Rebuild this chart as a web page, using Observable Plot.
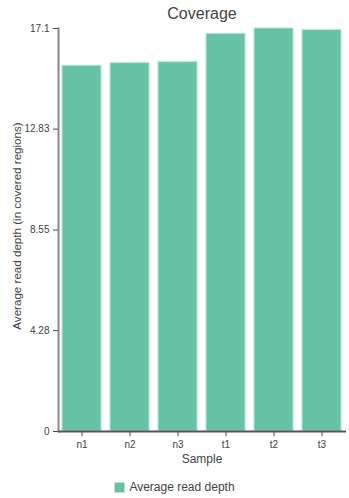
<!DOCTYPE html>
<html>
<head>
<meta charset="utf-8">
<script src="https://cdn.jsdelivr.net/npm/d3@7"></script>
<script src="https://cdn.jsdelivr.net/npm/@observablehq/plot@0.6"></script>
<style>
  html, body { margin: 0; padding: 0; background: #fff; }
  body { width: 349px; height: 498px; position: relative; font-family: "Liberation Sans", Arial, sans-serif; overflow: hidden; }
  #title { position: absolute; left: 58px; width: 288px; top: 5px; text-align: center; font-size: 16px; color: #444; }
  #chart { position: absolute; left: 0; top: 0; }
  #xlabel { position: absolute; left: 58px; width: 288px; top: 452px; text-align: center; font-size: 12px; color: #444; }
  #ylabel { position: absolute; left: 16px; top: 226px; font-size: 11.6px; color: #444; white-space: nowrap; transform: translate(-50%, -50%) rotate(-90deg); }
  #legend { position: absolute; left: 0; width: 349px; top: 480px; text-align: center; font-size: 12px; color: #444; }
  #legend .sw { display: inline-block; width: 11px; height: 11px; background: #66c2a5; border: 1px solid #b8e3d3; vertical-align: -2px; margin-right: 4px; box-sizing: border-box; }
</style>
</head>
<body>
<div id="chart"></div>
<div id="title">Coverage</div>
<div id="xlabel">Sample</div>
<div id="ylabel">Average read depth (in covered regions)</div>
<div id="legend"><span class="sw"></span>Average read depth</div>
<script>
const samples = ["n1", "n2", "n3", "t1", "t2", "t3"];
const depths = [15.52, 15.63, 15.67, 16.87, 17.1, 17.03];
const yTicks = [0, 4.28, 8.55, 12.83, 17.1];
const seriesName = "Average read depth";

const data = samples.map((s, i) => ({sample: s, depth: depths[i]}));

const chart = Plot.plot({
  width: 349,
  height: 470,
  marginTop: 28,
  marginBottom: 39,
  marginLeft: 58,
  marginRight: 3,
  style: {fontFamily: "Liberation Sans, Arial, sans-serif", fontSize: "10px", color: "#444", background: "transparent"},
  x: {domain: samples, paddingInner: 0.18, paddingOuter: 0.09, label: null, tickSize: 5, tickPadding: 4},
  y: {domain: [0, 17.1], ticks: yTicks, tickFormat: d => String(d), label: null, tickSize: 5, tickPadding: 4},
  marks: [
    Plot.barY(data, {x: "sample", y: "depth", fill: "#66c2a5", stroke: "#b8e3d3", strokeWidth: 1, title: d => `${seriesName}: ${d.depth}`}),
    Plot.frame({anchor: "left", stroke: "#888", strokeWidth: 2}),
    Plot.ruleY([0], {stroke: "#555", strokeWidth: 2})
  ]
});
document.getElementById("chart").appendChild(chart);
</script>
</body>
</html>
